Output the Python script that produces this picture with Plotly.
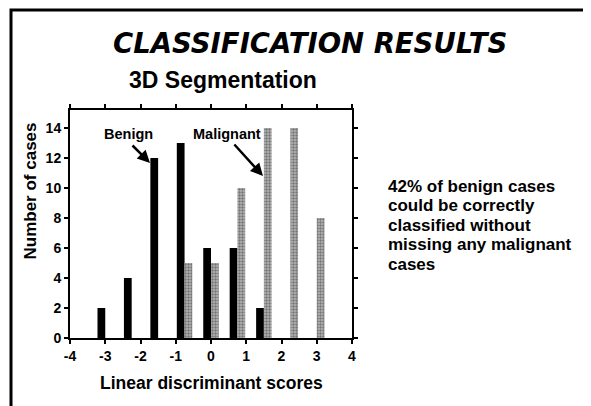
import plotly.graph_objects as go

# Data
bin_edges = [-3.0, -2.25, -1.5, -0.75, 0.0, 0.75, 1.5, 2.25, 3.0]
benign = [2, 4, 12, 13, 6, 6, 2, 0, 0]
malignant = [0, 0, 0, 5, 5, 10, 14, 14, 8]
x_ticks = [-4, -3, -2, -1, 0, 1, 2, 3, 4]
x_ticklabels = ["-4", "-3", "-2", "-1", "0", "1", "2", "3", "4"]
y_ticks = [0, 2, 4, 6, 8, 10, 12, 14]
note_lines = ["42% of benign cases", "could be correctly", "classified without",
              "missing any malignant", "cases"]

OFF = 8  # page body margin
W, H = 591 - OFF, 406 - OFF
L, R, T, B = 70, 352, 110, 338  # plot area in page px


def px(x):
    return (x - L) / (R - L)


def py(y):
    return (B - y) / (B - T)


BW = 0.22
fig = go.Figure()
fig.add_trace(go.Bar(
    x=bin_edges, y=benign, width=BW, offset=-BW,
    marker=dict(color="black", line=dict(width=0)), name="Benign",
))
fig.add_trace(go.Bar(
    x=bin_edges, y=malignant, width=BW, offset=0,
    marker=dict(color="#a0a0a0", line=dict(width=0),
                pattern=dict(shape=".", fgcolor="#333333", bgcolor="#b8b8b8",
                             size=3, solidity=0.5)),
    name="Malignant",
))

bold = "Liberation Sans"
axis_common = dict(
    showline=True, linecolor="black", linewidth=2, mirror="ticks",
    ticks="outside", ticklen=4, tickwidth=2, tickcolor="black",
    showgrid=False, zeroline=False, automargin=False,
    tickfont=dict(family=bold, size=14, color="black", weight="bold"),
)

fig.update_layout(
    width=W, height=H,
    margin=dict(l=L - OFF, r=591 - R, t=T - OFF, b=406 - B, pad=0),
    paper_bgcolor="white", plot_bgcolor="white",
    barmode="overlay", showlegend=False,
    xaxis=dict(range=[-4, 4], tickvals=x_ticks, ticktext=x_ticklabels, **axis_common),
    yaxis=dict(range=[0, 15.2], tickvals=y_ticks, **axis_common),
)

annos = [
    dict(text="<i>CLASSIFICATION RESULTS</i>", x=px(310), y=py(43),
         font=dict(family="DejaVu Sans", size=27.5, color="black", weight="bold")),
    dict(text="3D Segmentation", x=px(223), y=py(80),
         font=dict(family=bold, size=23, color="black", weight="bold")),
    dict(text="Linear discriminant scores", x=px(211), y=py(383),
         font=dict(family=bold, size=17.5, color="black", weight="bold")),
    dict(text="Number of cases", x=px(29.5), y=py(191), textangle=-90,
         font=dict(family=bold, size=17, color="black", weight="bold")),
    dict(text="Benign", x=px(128), y=py(134),
         font=dict(family=bold, size=14.5, color="black", weight="bold")),
    dict(text="Malignant", x=px(227), y=py(134),
         font=dict(family=bold, size=14.5, color="black", weight="bold")),
]
for i, line in enumerate(note_lines):
    annos.append(dict(text=line, x=px(386), y=py(186 + 19.5 * i), xanchor="left",
                      font=dict(family=bold, size=17, color="black", weight="bold")))
for a in annos:
    a.setdefault("xanchor", "center")
    fig.add_annotation(xref="paper", yref="paper", showarrow=False, yanchor="middle", **a)

# Arrows
fig.add_annotation(xref="paper", yref="paper", x=px(150), y=py(163),
                   ax=-19, ay=-19, axref="pixel", ayref="pixel",
                   text="", showarrow=True, arrowhead=2, arrowsize=1, arrowwidth=2.5,
                   arrowcolor="black")
fig.add_annotation(xref="paper", yref="paper", x=px(263), y=py(176),
                   ax=-30, ay=-33, axref="pixel", ayref="pixel",
                   text="", showarrow=True, arrowhead=2, arrowsize=1, arrowwidth=2.5,
                   arrowcolor="black")

# Slide frame
fig.add_shape(type="rect", xref="paper", yref="paper",
              x0=px(11), y0=py(430), x1=px(620), y1=py(10),
              line=dict(color="black", width=3), layer="above")

fig.write_html("out.html")
